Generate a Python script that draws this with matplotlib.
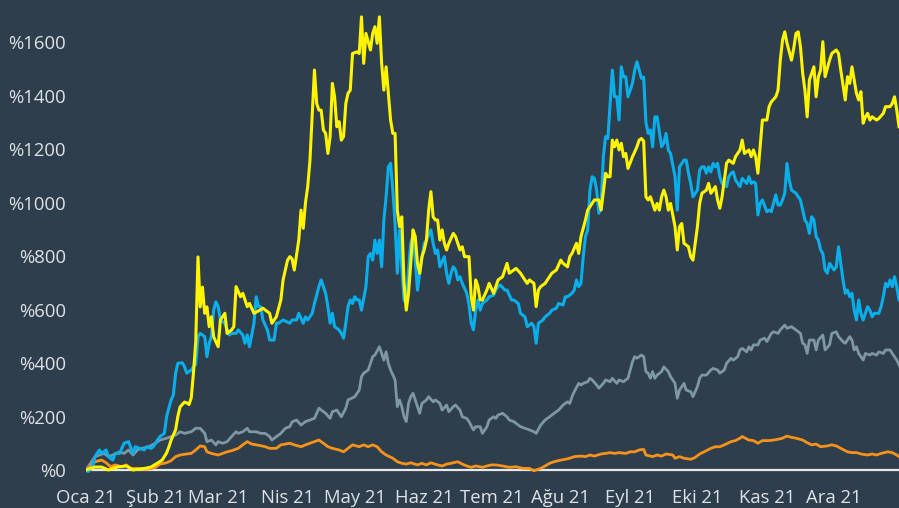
import matplotlib
matplotlib.use("Agg")
import matplotlib.pyplot as plt

# ---- data (day offset from 1 Jan 2021, % change) ----
yellow_days = [0,4,7,10,14,18,21,27,29,32,34,36,37,38,40,41,42,44,45,46,47,48,49,50,51,52,53,54,55,56,57,59,60,62,63,65,66,67,69,70,72,73,75,77,79,82,83,85,87,88,90,91,92,93,95,96,97,98,99,100,102,103,104,105,106,107,108,109,110,111,112,113,114,115,116,117,118,119,121,122,123,124,125,127,128,129,130,131,132,133,134,135,136,137,138,139,140,141,142,143,144,145,146,147,148,149,150,151,152,153,154,155,156,157,158,159,160,161,162,164,165,167,168,169,171,172,173,174,175,176,177,179,180,182,183,184,186,188,189,191,192,194,195,197,198,200,201,202,203,205,206,208,210,212,213,215,216,217,219,220,221,223,224,226,227,229,230,232,233,234,235,236,237,238,239,240,241,242,244,245,246,247,248,249,250,251,252,254,255,256,257,258,259,260,261,263,264,265,266,267,269,270,271,273,274,275,277,278,279,281,282,283,284,286,287,289,290,292,293,294,296,297,298,299,300,301,302,304,305,306,308,309,310,311,312,313,315,316,317,318,319,320,321,322,323,325,326,327,328,329,330,332,333,335,336,337,339,340,341,342,344,345,346,347,348,349,350,351,353,354,356,357,359,360,361,362,363]
yellow_vals = [0,11,11,0,11,15,0,7,11,26,37,64,86,112,150,200,236,254,251,245,270,365,480,797,610,684,586,610,536,573,498,461,561,586,511,524,536,686,648,661,611,623,586,595,605,586,549,573,636,711,785,798,790,748,860,972,904,1000,1060,1159,1496,1371,1346,1346,1272,1259,1184,1247,1446,1396,1284,1303,1234,1247,1371,1409,1421,1558,1564,1558,1695,1521,1633,1571,1633,1658,1596,1695,1521,1421,1508,1409,1309,1259,1259,972,910,947,700,598,661,773,898,873,773,736,798,823,860,972,1041,947,935,935,860,898,848,823,848,885,873,823,835,798,798,648,598,711,686,636,636,673,698,661,686,711,723,773,736,748,754,736,723,698,711,698,611,673,686,698,711,736,748,785,773,760,798,810,848,810,873,935,972,997,1010,1010,972,1110,1097,1097,1234,1209,1234,1197,1222,1172,1184,1128,1172,1190,1209,1234,1240,1230,1022,1010,1022,972,997,972,1022,1047,1022,972,997,910,823,910,922,848,835,798,785,910,997,1035,1047,1072,1035,1060,1010,979,1022,1147,1159,1147,1172,1197,1234,1184,1197,1172,1197,1172,1110,1209,1309,1309,1359,1377,1396,1421,1533,1608,1639,1596,1533,1577,1633,1639,1583,1484,1420,1321,1459,1508,1396,1471,1496,1602,1471,1533,1558,1571,1558,1496,1384,1471,1446,1508,1409,1384,1415,1297,1321,1334,1309,1321,1309,1315,1334,1359,1359,1371,1396,1346,1284]

blue_days = [0,1,3,4,6,7,9,10,12,13,15,17,19,21,22,24,26,27,29,30,32,33,35,36,38,39,40,41,43,44,45,47,48,49,50,51,53,54,55,56,57,58,59,60,62,63,64,65,67,68,70,71,72,73,75,76,77,78,79,81,82,84,85,86,88,91,92,94,95,97,98,99,101,102,104,105,107,108,109,110,111,113,114,115,116,117,118,119,120,121,122,123,125,126,127,128,129,130,131,132,133,134,135,136,137,138,139,140,141,142,143,144,145,146,147,148,149,151,152,154,155,156,157,158,160,161,162,163,164,165,166,167,168,170,171,172,173,174,175,176,177,179,180,182,183,184,185,187,188,190,191,193,194,196,197,199,200,201,202,204,205,207,208,210,211,213,214,215,217,218,219,220,221,222,223,224,225,226,227,228,229,230,231,232,233,234,235,236,237,238,239,240,241,242,244,245,246,247,248,249,250,251,252,253,254,255,257,258,259,260,261,263,264,265,267,268,269,270,271,273,274,275,276,277,278,279,280,281,282,283,284,286,287,288,289,290,292,293,295,296,297,298,299,300,301,302,304,305,306,307,308,309,310,311,312,313,314,315,317,318,319,320,321,322,323,324,325,326,327,328,329,330,331,332,334,335,336,337,338,339,340,341,342,343,344,345,346,347,349,350,351,352,354,355,356,357,358,359,360,361,362,363]
blue_vals = [0,-6,12,50,75,62,75,50,37,62,62,100,106,62,87,81,75,87,81,87,112,125,137,200,262,280,362,399,401,386,362,374,386,395,499,511,499,424,474,499,598,629,611,561,549,524,505,511,511,524,505,474,505,461,549,648,611,611,561,524,486,486,549,549,561,549,561,561,586,549,573,561,586,623,686,711,661,611,549,586,536,524,511,493,549,611,636,623,648,636,636,598,686,798,810,785,860,810,860,760,935,1022,1134,1147,1047,922,736,898,760,636,623,748,848,873,785,673,736,848,860,898,848,810,823,760,798,736,698,736,760,748,711,723,698,661,620,549,524,598,636,598,623,636,648,654,673,686,692,673,673,636,636,623,586,573,536,549,536,474,549,561,573,586,598,605,623,617,648,648,661,673,711,686,698,798,873,898,1047,1097,1091,1047,960,997,1172,1247,1240,1371,1496,1396,1396,1309,1508,1471,1471,1396,1446,1496,1527,1496,1465,1470,1300,1259,1272,1209,1321,1321,1209,1222,1259,1197,1184,1097,972,1134,1159,1159,1110,1072,1022,1047,1122,1134,1134,1110,1134,1115,1147,1134,1147,1097,1072,1060,1097,1110,1115,1085,1060,1091,1072,1097,1072,1078,1072,954,997,1010,966,972,966,997,1029,991,991,1010,1035,1147,1085,1047,1035,1022,1010,972,935,922,885,947,935,873,860,823,810,748,736,773,748,760,835,773,711,661,673,648,661,598,561,636,586,561,611,598,573,586,586,611,648,698,686,711,686,723,686,636]

grey_days = [0,2,4,6,8,10,12,15,17,19,21,23,25,28,31,33,36,38,40,42,44,47,49,51,53,54,56,58,59,61,63,65,67,68,70,72,73,76,78,80,82,83,85,87,89,91,92,94,96,98,100,102,104,107,109,110,112,114,116,117,120,122,123,124,126,127,128,129,131,132,133,134,135,136,137,138,139,140,141,142,143,144,145,146,148,149,150,152,153,155,156,158,159,161,162,164,165,167,168,170,171,173,174,176,177,179,180,182,183,184,186,188,189,191,194,196,198,200,201,203,205,207,209,211,213,215,216,217,218,220,221,222,224,225,226,228,229,231,232,234,235,237,238,240,241,242,244,245,246,248,249,250,251,252,253,254,255,257,258,260,261,263,264,265,267,268,270,271,273,274,275,276,277,279,280,282,283,285,286,288,289,291,292,293,295,296,297,298,300,301,303,304,306,307,309,310,312,313,315,316,317,319,320,321,322,323,325,326,327,329,330,332,333,335,336,338,339,341,342,343,344,345,347,348,350,351,353,354,356,357,359,360,362,363]
grey_vals = [0,25,50,56,62,50,56,68,62,75,56,75,81,87,100,112,119,125,131,143,137,143,156,156,137,106,112,94,106,100,106,125,143,137,143,156,143,143,137,137,125,112,125,137,156,162,180,187,168,181,187,193,231,212,193,218,224,199,231,262,274,299,349,362,374,399,424,430,461,436,411,442,399,374,355,337,237,262,237,199,181,249,274,287,237,212,249,262,274,255,262,249,224,243,218,237,243,224,199,193,181,150,162,162,137,162,187,199,193,206,212,199,187,181,162,156,150,143,137,168,187,199,212,224,243,255,249,274,293,324,318,324,330,343,337,318,306,324,337,330,343,324,337,330,337,343,405,424,418,430,424,368,362,343,368,343,355,368,386,368,349,324,268,299,324,299,293,274,312,343,355,355,355,374,380,374,362,374,399,418,411,424,449,455,442,461,449,468,468,486,493,480,511,517,511,524,542,530,536,530,524,511,474,468,436,486,486,449,486,505,449,468,511,517,499,480,474,499,486,449,461,436,411,436,430,436,430,442,436,449,449,436,411,393]

orange_days = [0,2,4,7,9,11,13,16,18,20,23,26,29,31,33,36,38,40,42,45,47,49,51,53,54,56,59,61,63,65,68,70,72,74,76,78,80,82,85,87,89,91,93,96,98,100,102,104,106,108,110,113,115,117,119,122,124,126,128,130,132,134,137,139,141,143,145,148,150,152,154,157,159,161,163,166,168,170,172,174,177,179,181,183,186,189,192,195,198,200,203,205,207,209,212,214,216,218,221,223,225,227,230,232,234,236,238,241,243,245,247,249,250,253,255,257,259,262,263,265,267,270,272,274,276,279,281,283,285,288,290,292,293,296,298,300,302,305,307,309,311,313,315,317,320,322,324,326,328,331,333,335,337,340,342,344,346,349,351,353,355,358,360,362,363]
orange_vals = [0,12,31,37,27,12,19,12,19,6,6,3,5,10,22,27,35,50,56,60,62,75,90,87,68,62,56,62,68,72,81,94,106,97,94,91,87,81,81,94,97,100,94,87,94,100,106,112,100,87,81,75,68,81,94,87,94,87,94,87,68,56,44,31,25,22,27,19,25,19,27,19,15,22,25,31,22,15,10,15,10,15,19,19,15,10,12,6,6,-3,6,15,25,31,37,40,44,50,52,50,56,52,60,62,65,62,65,62,68,68,75,77,56,50,56,52,60,56,44,50,44,40,47,60,68,81,87,87,94,106,110,119,125,112,110,100,110,110,112,115,119,127,122,119,112,102,94,97,87,90,94,90,81,68,65,65,60,56,60,56,62,68,65,56,50]

month_days = [0, 31, 59, 90, 120, 151, 181, 212, 243, 273, 304, 334]
month_labels = ["Oca 21", "Şub 21", "Mar 21", "Nis 21", "May 21", "Haz 21",
                "Tem 21", "Ağu 21", "Eyl 21", "Eki 21", "Kas 21", "Ara 21"]
y_ticks = [0, 200, 400, 600, 800, 1000, 1200, 1400, 1600]

BG = "#2e3e4c"
TXT = "#dde2e6"

plt.rcParams["font.family"] = ["Open Sans", "DejaVu Sans"]

fig = plt.figure(figsize=(8.99, 5.08), dpi=100, facecolor=BG)
ax = fig.add_axes([86/899, 34/508, 813/899, 474/508], facecolor=BG)

ax.axhline(0, color="#e8e8e8", lw=1.6, zorder=1)
ax.plot(grey_days, grey_vals, color="#7e97a3", lw=2.0, zorder=2)
ax.plot(orange_days, orange_vals, color="#f7931a", lw=2.0, zorder=3)
ax.plot(blue_days, blue_vals, color="#0aaeea", lw=2.2, zorder=4)
ax.plot(yellow_days, yellow_vals, color="#fff500", lw=2.2, zorder=5)

ax.set_xlim(0, 363)
ax.set_ylim(-15, 1758)

ax.set_xticks(month_days)
ax.set_xticklabels(month_labels)
ax.set_yticks(y_ticks)
ax.set_yticklabels(["%" + str(v) for v in y_ticks])
ax.tick_params(axis="both", length=0, colors=TXT, labelsize=13.3)
ax.tick_params(axis="y", pad=14.5)
ax.tick_params(axis="x", pad=10.5)
for s in ax.spines.values():
    s.set_visible(False)

fig.savefig("out.png", dpi=100, facecolor=BG)
